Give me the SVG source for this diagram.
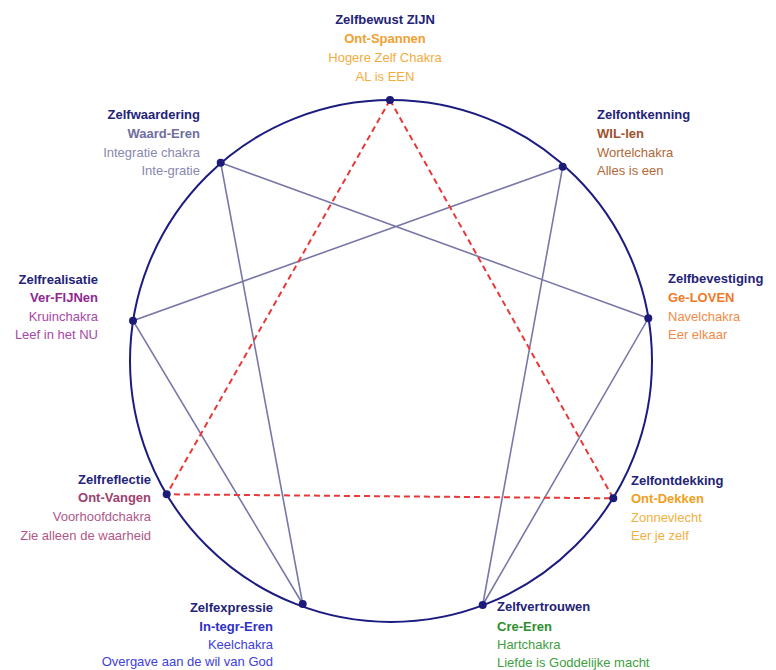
<svg xmlns="http://www.w3.org/2000/svg" width="776" height="670" viewBox="0 0 776 670">
<style>
text{font-family:"Liberation Sans",Arial,sans-serif;font-size:13px}
.t{font-weight:bold;fill:#232378}
.b{font-weight:bold}
.r{text-anchor:end}
.m{text-anchor:middle}
.ln{stroke:#7878a8;stroke-width:1.6;fill:none}
.dash{stroke:#e83838;stroke-width:2;stroke-dasharray:6 4;fill:none}
.dot{fill:#1c1c78}
</style>
<rect width="776" height="670" fill="#ffffff"/>
<circle cx="391" cy="361" r="261" fill="none" stroke="#1c1c80" stroke-width="2"/>
<g id="connectors">
<polyline class="ln" points="562.7,166.7 482.7,605 648.3,318.3 220.7,162.7 302.7,604 133,320.7 562.7,166.7"/>
<polygon class="dash" points="390,100 613.3,498.3 166.7,494.3"/>
</g>
<g id="n9">
<circle class="dot" cx="390" cy="100" r="4"/>
<text class="t m" x="385" y="24">Zelfbewust ZIJN</text>
<text class="b m" x="385" y="43" fill="#f0a030">Ont-Spannen</text>
<text class="m" x="385" y="62" fill="#f2ac40">Hogere Zelf Chakra</text>
<text class="m" x="385" y="81" fill="#f2ac40">AL is EEN</text>
</g>
<g id="n1">
<circle class="dot" cx="562.7" cy="166.7" r="4"/>
<text class="t" x="597" y="119">Zelfontkenning</text>
<text class="b" x="597" y="138" fill="#a0522d">WIL-len</text>
<text x="597" y="157" fill="#b06838">Wortelchakra</text>
<text x="597" y="175" fill="#b06838">Alles is een</text>
</g>
<g id="n2">
<circle class="dot" cx="648.3" cy="318.3" r="4"/>
<text class="t" x="668" y="283">Zelfbevestiging</text>
<text class="b" x="668" y="302" fill="#f07a28">Ge-LOVEN</text>
<text x="668" y="321" fill="#f28a48">Navelchakra</text>
<text x="668" y="339" fill="#f28a48">Eer elkaar</text>
</g>
<g id="n3">
<circle class="dot" cx="613.3" cy="498.3" r="4"/>
<text class="t" x="631" y="485">Zelfontdekking</text>
<text class="b" x="631" y="503" fill="#f0a020">Ont-Dekken</text>
<text x="631" y="522" fill="#f2b040">Zonnevlecht</text>
<text x="631" y="540" fill="#f2b040">Eer je zelf</text>
</g>
<g id="n4">
<circle class="dot" cx="482.7" cy="605" r="4"/>
<text class="t" x="497" y="611">Zelfvertrouwen</text>
<text class="b" x="497" y="631" fill="#2e8e2e">Cre-Eren</text>
<text x="497" y="649" fill="#40a040">Hartchakra</text>
<text x="497" y="667" fill="#40a040">Liefde is Goddelijke macht</text>
</g>
<g id="n5">
<circle class="dot" cx="302.7" cy="604" r="4"/>
<text class="t r" x="273" y="612">Zelfexpressie</text>
<text class="b r" x="273" y="631" fill="#3030c8">In-tegr-Eren</text>
<text class="r" x="273" y="649" fill="#4040dc">Keelchakra</text>
<text class="r" x="273" y="666" fill="#4040dc">Overgave aan de wil van God</text>
</g>
<g id="n6">
<circle class="dot" cx="166.7" cy="494.3" r="4"/>
<text class="t r" x="151" y="484">Zelfreflectie</text>
<text class="b r" x="151" y="502" fill="#a04070">Ont-Vangen</text>
<text class="r" x="151" y="521" fill="#b05888">Voorhoofdchakra</text>
<text class="r" x="151" y="540" fill="#b05888">Zie alleen de waarheid</text>
</g>
<g id="n7">
<circle class="dot" cx="133" cy="320.7" r="4"/>
<text class="t r" x="98" y="284">Zelfrealisatie</text>
<text class="b r" x="98" y="302" fill="#902890">Ver-FIJNen</text>
<text class="r" x="98" y="321" fill="#a848a8">Kruinchakra</text>
<text class="r" x="98" y="339" fill="#a848a8">Leef in het NU</text>
</g>
<g id="n8">
<circle class="dot" cx="220.7" cy="162.7" r="4"/>
<text class="t r" x="200" y="119">Zelfwaardering</text>
<text class="b r" x="200" y="138" fill="#6e6ea0">Waard-Eren</text>
<text class="r" x="200" y="157" fill="#8888b0">Integratie chakra</text>
<text class="r" x="200" y="175" fill="#8888b0">Inte-gratie</text>
</g>
</svg>
